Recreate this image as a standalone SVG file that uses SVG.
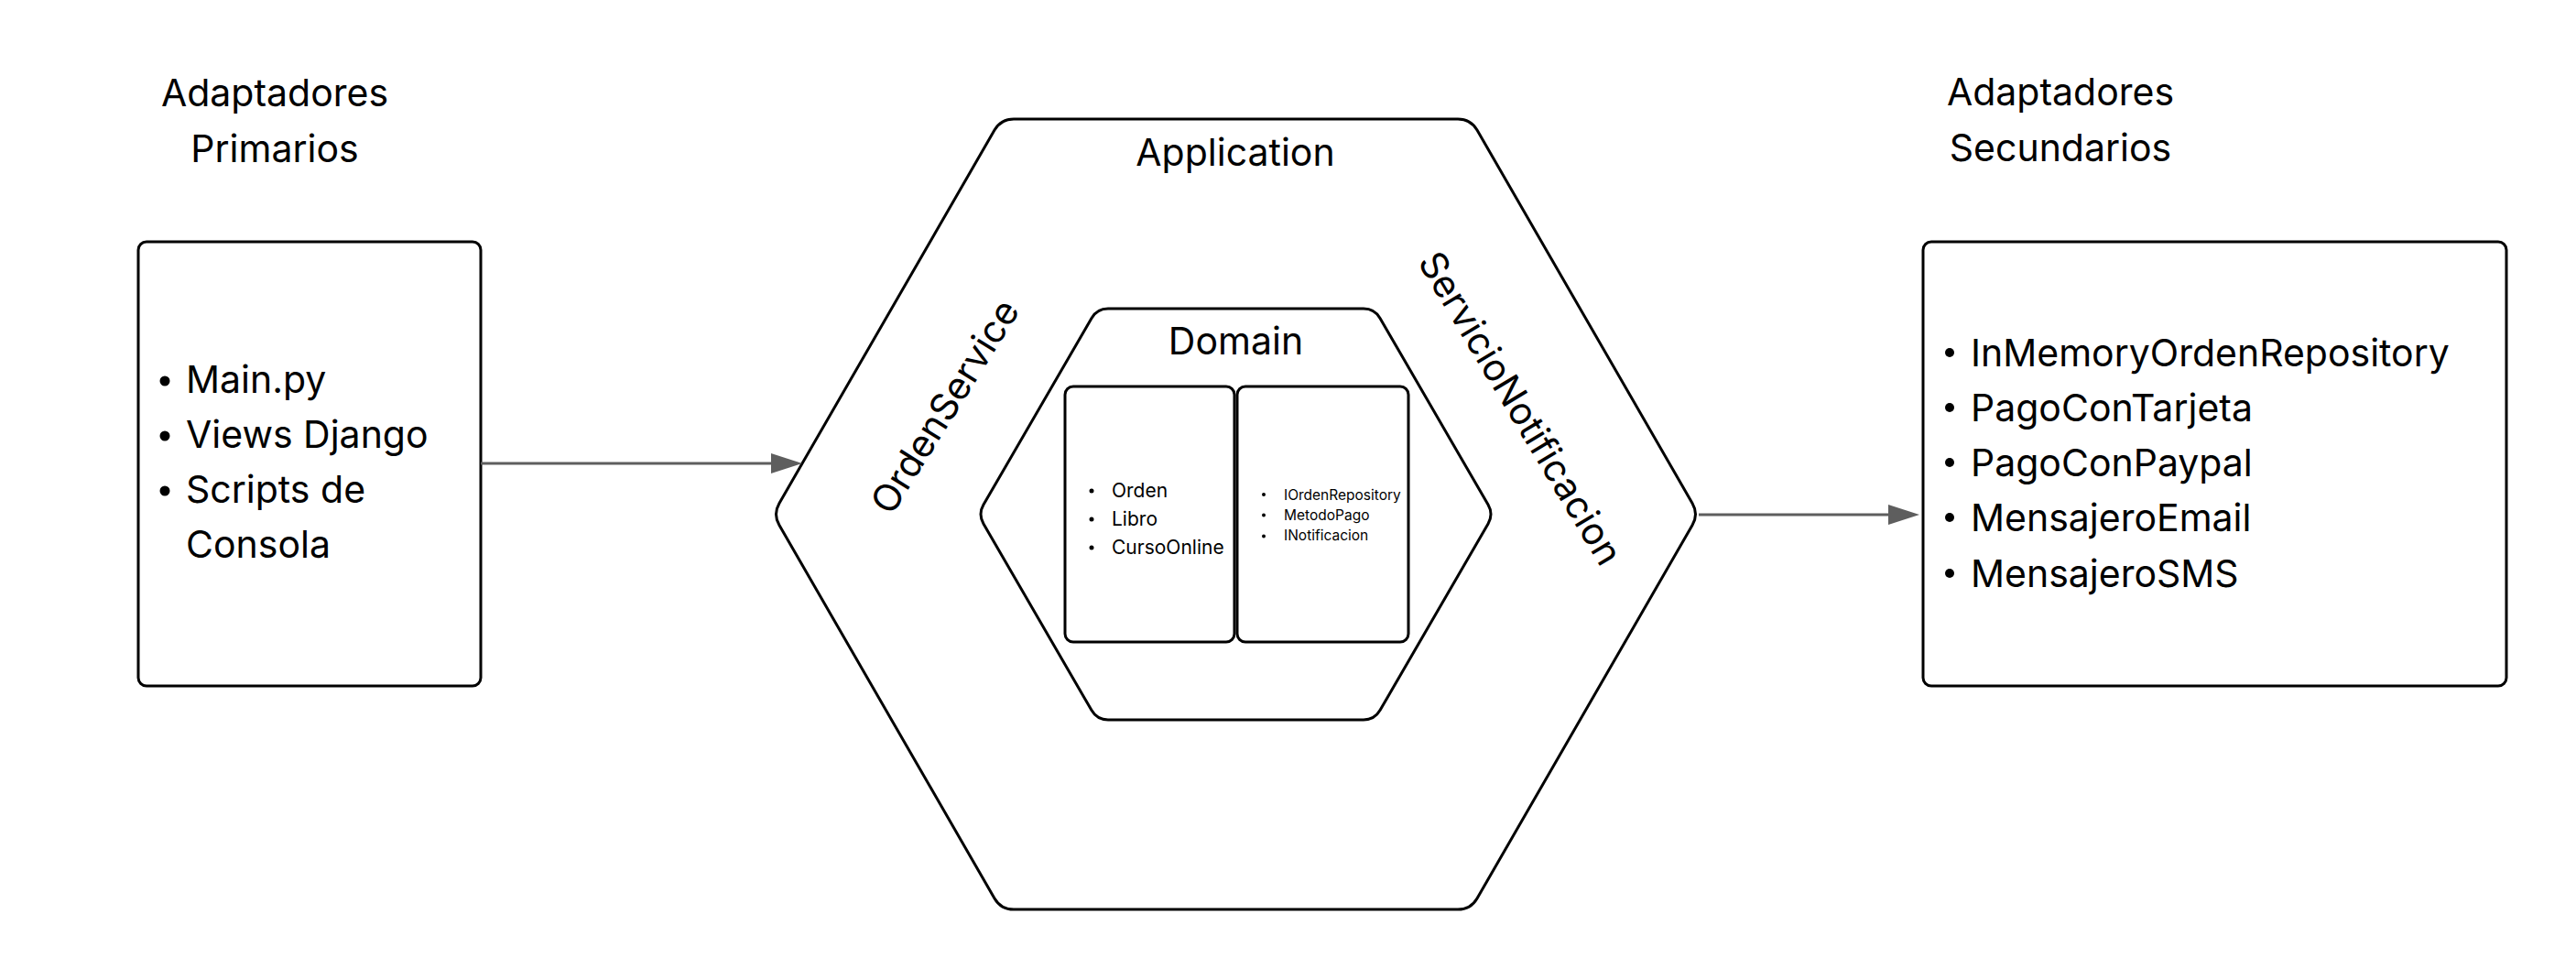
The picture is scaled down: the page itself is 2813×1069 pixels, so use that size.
<svg xmlns="http://www.w3.org/2000/svg" width="2813" height="1069" viewBox="0 0 2813 1069">
<style>
.t{font-family:Inter,"Noto Sans","Liberation Sans",sans-serif;fill:#000}
.big{font-size:41px}
.mid{font-size:21px}
.sm{font-size:15.5px}
.shape{fill:#fff;stroke:#000;stroke-width:3;stroke-linejoin:round}
.conn{fill:none;stroke:#5e5e5e;stroke-width:3}
</style>
<defs>
<marker id="ah" markerUnits="userSpaceOnUse" markerWidth="36" markerHeight="24" refX="14" refY="11" orient="auto">
<path d="M0,0 L34,11 L0,22 Z" fill="#5e5e5e"/>
</marker>
</defs>
<rect width="2813" height="1069" fill="#fff"/>

<g id="title-primarios">
<text class="t big" x="300" y="116" text-anchor="middle">Adaptadores</text>
<text class="t big" x="300" y="177" text-anchor="middle">Primarios</text>
</g>

<g id="title-secundarios">
<text class="t big" x="2250" y="115" text-anchor="middle">Adaptadores</text>
<text class="t big" x="2250" y="176" text-anchor="middle">Secundarios</text>
</g>

<g id="primary-adapters">
<rect class="shape" x="151" y="264" width="374" height="485" rx="9"/>
<circle cx="180" cy="416" r="5.5"/>
<circle cx="180" cy="476" r="5.5"/>
<circle cx="180" cy="536" r="5.5"/>
<text class="t big" x="203" y="429">Main.py</text>
<text class="t big" x="203" y="489">Views Django</text>
<text class="t big" x="203" y="549">Scripts de</text>
<text class="t big" x="203" y="609">Consola</text>
</g>

<g id="application">
<path class="shape" d="M851,549.4 L1086,142.1 Q1093,130 1107,130 L1592,130 Q1606,130 1613,142.1 L1848,549.4 Q1855,561.5 1848,573.6 L1613,980.9 Q1606,993 1592,993 L1107,993 Q1093,993 1086,980.9 L851,573.6 Q844,561.5 851,549.4 Z"/>
<text class="t big" x="1349" y="181" text-anchor="middle">Application</text>
<text class="t big" text-anchor="middle" transform="translate(1032,444) rotate(-58)" x="0" y="14">OrdenService</text>
<text class="t big" text-anchor="middle" transform="translate(1660,446) rotate(59)" x="0" y="14">ServicioNotificacion</text>
</g>

<g id="domain">
<path class="shape" d="M1074,551.1 L1192,347.4 Q1198,337 1210,337 L1489,337 Q1501,337 1507,347.4 L1625,551.1 Q1631,561.5 1625,571.9 L1507,775.6 Q1501,786 1489,786 L1210,786 Q1198,786 1192,775.6 L1074,571.9 Q1068,561.5 1074,551.1 Z"/>
<text class="t big" x="1349.5" y="387" text-anchor="middle">Domain</text>
</g>

<g id="entities">
<rect class="shape" x="1163" y="422" width="185" height="279" rx="9"/>
<circle cx="1192" cy="536" r="2.5"/>
<circle cx="1192" cy="567" r="2.5"/>
<circle cx="1192" cy="598" r="2.5"/>
<text class="t mid" x="1214" y="543">Orden</text>
<text class="t mid" x="1214" y="574">Libro</text>
<text class="t mid" x="1214" y="605">CursoOnline</text>
</g>

<g id="ports">
<rect class="shape" x="1351" y="422" width="187" height="279" rx="9"/>
<circle cx="1380" cy="540" r="2"/>
<circle cx="1380" cy="562.5" r="2"/>
<circle cx="1380" cy="585.5" r="2"/>
<text class="t sm" x="1402" y="545.5">IOrdenRepository</text>
<text class="t sm" x="1402" y="567.5">MetodoPago</text>
<text class="t sm" x="1402" y="589.5">INotificacion</text>
</g>

<g id="secondary-adapters">
<rect class="shape" x="2100" y="264" width="637" height="485" rx="9"/>
<circle cx="2129" cy="385" r="5"/>
<circle cx="2129" cy="445" r="5"/>
<circle cx="2129" cy="505" r="5"/>
<circle cx="2129" cy="565" r="5"/>
<circle cx="2129" cy="626" r="5"/>
<text class="t big" x="2152" y="399.5">InMemoryOrdenRepository</text>
<text class="t big" x="2152" y="459.5">PagoConTarjeta</text>
<text class="t big" x="2152" y="519.5">PagoConPaypal</text>
<text class="t big" x="2152" y="579.5">MensajeroEmail</text>
<text class="t big" x="2152" y="640.5">MensajeroSMS</text>
</g>

<g id="connectors">
<line class="conn" x1="525" y1="506" x2="856" y2="506" marker-end="url(#ah)"/>
<line class="conn" x1="1855" y1="562" x2="2076" y2="562" marker-end="url(#ah)"/>
</g>
</svg>
